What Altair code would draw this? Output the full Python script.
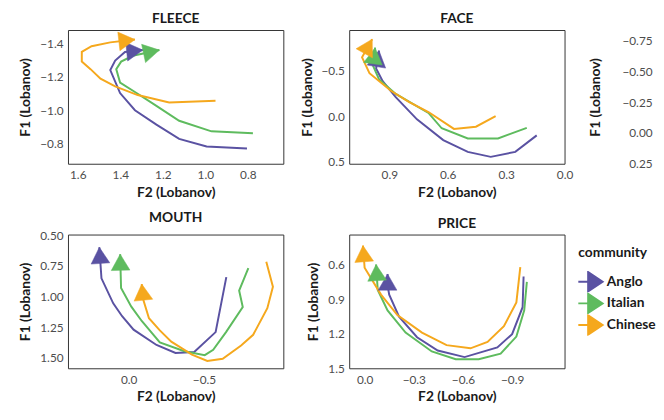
import math
import altair as alt
import pandas as pd

communities = ["Anglo", "Italian", "Chinese"]
colors = ["#5A52A2", "#5EBB5E", "#F5A81D"]

# ---- FLEECE (F2, F1) per community ----
fleece_anglo_f2 = [0.804, 0.994, 1.123, 1.230, 1.331, 1.401, 1.447, 1.424, 1.378, 1.294]
fleece_anglo_f1 = [-0.771, -0.783, -0.829, -0.914, -1.000, -1.103, -1.240, -1.297, -1.349, -1.360]
fleece_italian_f2 = [0.776, 0.971, 1.123, 1.239, 1.331, 1.401, 1.419, 1.396, 1.341, 1.216]
fleece_italian_f1 = [-0.863, -0.874, -0.937, -1.034, -1.109, -1.166, -1.246, -1.291, -1.326, -1.360]
fleece_chinese_f2 = [0.952, 1.170, 1.318, 1.424, 1.493, 1.540, 1.581, 1.581, 1.535, 1.447, 1.331]
fleece_chinese_f1 = [-1.057, -1.046, -1.091, -1.143, -1.189, -1.246, -1.291, -1.349, -1.383, -1.406, -1.423]

# ---- FACE ----
face_anglo_f2 = [0.143, 0.253, 0.379, 0.497, 0.623, 0.758, 0.867, 0.934, 0.968, 0.953]
face_anglo_f1 = [0.211, 0.393, 0.448, 0.393, 0.263, 0.035, -0.211, -0.386, -0.526, -0.723]
face_italian_f2 = [0.194, 0.342, 0.497, 0.631, 0.699, 0.867, 0.952, 0.985, 0.973]
face_italian_f1 = [0.129, 0.245, 0.245, 0.133, -0.036, -0.246, -0.404, -0.562, -0.755]
face_chinese_f2 = [0.354, 0.455, 0.568, 0.699, 0.800, 0.892, 1.002, 1.040, 0.988]
face_chinese_f1 = [0.000, 0.116, 0.140, -0.046, -0.158, -0.281, -0.474, -0.649, -0.849]

# ---- MOUTH ----
mouth_anglo_f2 = [-0.648, -0.577, -0.435, -0.311, -0.185, -0.033, 0.043, 0.102, 0.180, 0.194]
mouth_anglo_f1 = [0.842, 1.291, 1.453, 1.461, 1.396, 1.271, 1.161, 1.056, 0.852, 0.599]
mouth_italian_f2 = [-0.794, -0.733, -0.757, -0.646, -0.561, -0.505, -0.370, -0.207, -0.087, -0.018, 0.050, 0.056]
mouth_italian_f1 = [0.769, 0.952, 1.087, 1.291, 1.435, 1.479, 1.447, 1.375, 1.200, 1.083, 0.931, 0.655]
mouth_chinese_f2 = [-0.913, -0.957, -0.920, -0.826, -0.746, -0.624, -0.522, -0.420, -0.283, -0.207, -0.135, -0.098, -0.087]
mouth_chinese_f1 = [0.717, 0.921, 1.096, 1.313, 1.401, 1.508, 1.526, 1.474, 1.369, 1.277, 1.178, 1.030, 0.899]

# ---- PRICE ----
price_anglo_f2 = [-0.970, -0.964, -0.900, -0.810, -0.610, -0.446, -0.320, -0.210, -0.150, -0.140, -0.140]
price_anglo_f1 = [0.704, 0.970, 1.204, 1.319, 1.403, 1.346, 1.231, 1.052, 0.861, 0.779, 0.682]
price_italian_f2 = [-0.990, -0.974, -0.926, -0.830, -0.696, -0.556, -0.410, -0.250, -0.140, -0.080, -0.070]
price_italian_f1 = [0.751, 0.998, 1.225, 1.373, 1.422, 1.422, 1.354, 1.190, 0.998, 0.820, 0.600]
price_chinese_f2 = [-0.950, -0.926, -0.850, -0.750, -0.646, -0.500, -0.350, -0.200, -0.100, 0.000, 0.010]
price_chinese_f1 = [0.622, 0.929, 1.135, 1.272, 1.327, 1.299, 1.190, 1.039, 0.861, 0.628, 0.436]

# axis domains / ticks
fleece_xdom, fleece_ydom = [0.633, 1.646], [-1.48, -0.68]
fleece_xticks, fleece_yticks = [1.6, 1.4, 1.2, 1.0, 0.8], [-1.4, -1.2, -1.0, -0.8]
face_xdom, face_ydom = [0.0, 1.106], [-0.95, 0.524]
face_xticks, face_yticks = [0.9, 0.6, 0.3, 0.0], [-0.5, 0.0, 0.5]
mouth_xdom, mouth_ydom = [-1.026, 0.402], [0.495, 1.586]
mouth_xticks, mouth_yticks = [0.0, -0.5], [0.5, 0.75, 1.0, 1.25, 1.5]
price_xdom, price_ydom = [-1.22, 0.094], [0.34, 1.5]
price_xticks, price_yticks = [0.0, -0.3, -0.6, -0.9], [0.6, 0.9, 1.2, 1.5]
stray_ydom = [-0.837, 0.2505]
stray_ticks = [-0.75, -0.5, -0.25, 0.0, 0.25]

W, H = 219, 136
ARROW_SIZE = 361
FONT = "Lato"

stroke_enc = alt.Stroke("community:N", scale=alt.Scale(domain=communities, range=colors))
fill_enc = alt.Fill("community:N", scale=alt.Scale(domain=communities, range=colors))


def axis(values, fmt, title, **kw):
    return alt.Axis(values=values, format=fmt, title=title, labelOverlap=False,
                    labelFlush=False, labelBound=False, **kw)


def make_panel(series, xdom, ydom, xticks, yticks, xfmt, yfmt):
    rows, arrows = [], []
    h = 0.433 * math.sqrt(ARROW_SIZE)
    for comm, (f2, f1) in zip(communities, series):
        for i, (a, b) in enumerate(zip(f2, f1)):
            rows.append({"community": comm, "order": i, "F2": a, "F1": b})

        def px(v):
            return (xdom[1] - v) / (xdom[1] - xdom[0]) * W

        def py(v):
            return (v - ydom[0]) / (ydom[1] - ydom[0]) * H

        dx = px(f2[-1]) - px(f2[-2])
        dy = py(f1[-1]) - py(f1[-2])
        n = math.hypot(dx, dy)
        ux, uy = dx / n, dy / n
        cx = px(f2[-1]) - h * ux
        cy = py(f1[-1]) - h * uy
        arrows.append({
            "community": comm,
            "F2": xdom[1] - cx / W * (xdom[1] - xdom[0]),
            "F1": ydom[0] + cy / H * (ydom[1] - ydom[0]),
            "angle": math.degrees(math.atan2(dy, dx)) % 360,
        })
    df = pd.DataFrame(rows)
    adf = pd.DataFrame(arrows)
    xs = alt.Scale(domain=xdom, reverse=True, nice=False, zero=False)
    ys = alt.Scale(domain=ydom, reverse=True, nice=False, zero=False)
    lines = alt.Chart(df).mark_line(strokeWidth=2, clip=True).encode(
        x=alt.X("F2:Q", scale=xs, axis=axis(xticks, xfmt, "F2 (Lobanov)")),
        y=alt.Y("F1:Q", scale=ys, axis=axis(yticks, yfmt, "F1 (Lobanov)")),
        stroke=stroke_enc, order="order:Q")
    heads = alt.Chart(adf).mark_point(shape="triangle-right", filled=True, size=ARROW_SIZE,
                                      opacity=1, strokeWidth=0.5).encode(
        x=alt.X("F2:Q", scale=xs, axis=axis(xticks, xfmt, "F2 (Lobanov)")),
        y=alt.Y("F1:Q", scale=ys, axis=axis(yticks, yfmt, "F1 (Lobanov)")),
        fill=fill_enc, stroke=stroke_enc,
        angle=alt.Angle("angle:Q", scale=None))
    return alt.layer(lines, heads)


fleece = make_panel([(fleece_anglo_f2, fleece_anglo_f1), (fleece_italian_f2, fleece_italian_f1),
                     (fleece_chinese_f2, fleece_chinese_f1)],
                    fleece_xdom, fleece_ydom, fleece_xticks, fleece_yticks, ".1f", ".1f"
                    ).properties(width=W, height=H, title="FLEECE")
face_core = make_panel([(face_anglo_f2, face_anglo_f1), (face_italian_f2, face_italian_f1),
                        (face_chinese_f2, face_chinese_f1)],
                       face_xdom, face_ydom, face_xticks, face_yticks, ".1f", ".1f")
mouth = make_panel([(mouth_anglo_f2, mouth_anglo_f1), (mouth_italian_f2, mouth_italian_f1),
                    (mouth_chinese_f2, mouth_chinese_f1)],
                   mouth_xdom, mouth_ydom, mouth_xticks, mouth_yticks, ".1f", ".2f"
                   ).properties(width=W, height=H, title="MOUTH")
price = make_panel([(price_anglo_f2, price_anglo_f1), (price_italian_f2, price_italian_f1),
                    (price_chinese_f2, price_chinese_f1)],
                   price_xdom, price_ydom, price_xticks, price_yticks, ".1f", ".1f"
                   ).properties(width=W, height=H, title="PRICE")

stray = alt.Chart(pd.DataFrame({"v": stray_ticks})).mark_point(opacity=0).encode(
    y=alt.Y("v:Q", scale=alt.Scale(domain=stray_ydom, reverse=True, nice=False, zero=False),
            axis=axis(stray_ticks, ".2f", "F1 (Lobanov)", orient="left", offset=-310,
                      labelPadding=2, titlePadding=20)))
face = alt.layer(face_core, stray).resolve_scale(y="independent").properties(width=W, height=H, title="FACE")

legend_path = "M-2.7,0L-1,0M-1,-1.4L1.1,0L-1,1.4Z"

chart = alt.concat(fleece, face, mouth, price, columns=2, spacing={"row": 72, "column": 67},
                   align="all", bounds="flush").properties(
    padding={"left": 10, "top": 0, "right": 0, "bottom": 0}
).configure_view(stroke="#333333", strokeWidth=1).configure_axis(
    labelFont=FONT, labelFontSize=12, labelColor="#4d4d4d", titleFont=FONT, titleFontSize=14,
    titleFontWeight="bold", titleColor="#1a1a1a", ticks=False, domain=False, grid=False
).configure_axisX(labelPadding=6, titlePadding=5
).configure_axisY(labelPadding=5, titlePadding=7
).configure_title(font=FONT, fontSize=14, fontWeight="bold", color="#1a1a1a", offset=4, anchor="middle"
).configure_legend(
    orient="none", legendX=519, legendY=220, symbolType=legend_path, symbolSize=196,
    symbolStrokeWidth=2, symbolOffset=9, titleFont=FONT, titleFontSize=14, titleFontWeight="bold",
    titleColor="#1a1a1a", labelFont=FONT, labelFontSize=14, labelFontWeight="bold", labelColor="#1a1a1a",
    titlePadding=11, rowPadding=0, clipHeight=22, labelOffset=4, symbolOpacity=1
)

chart.save("out.html", embed_options={"renderer": "svg", "actions": False})
